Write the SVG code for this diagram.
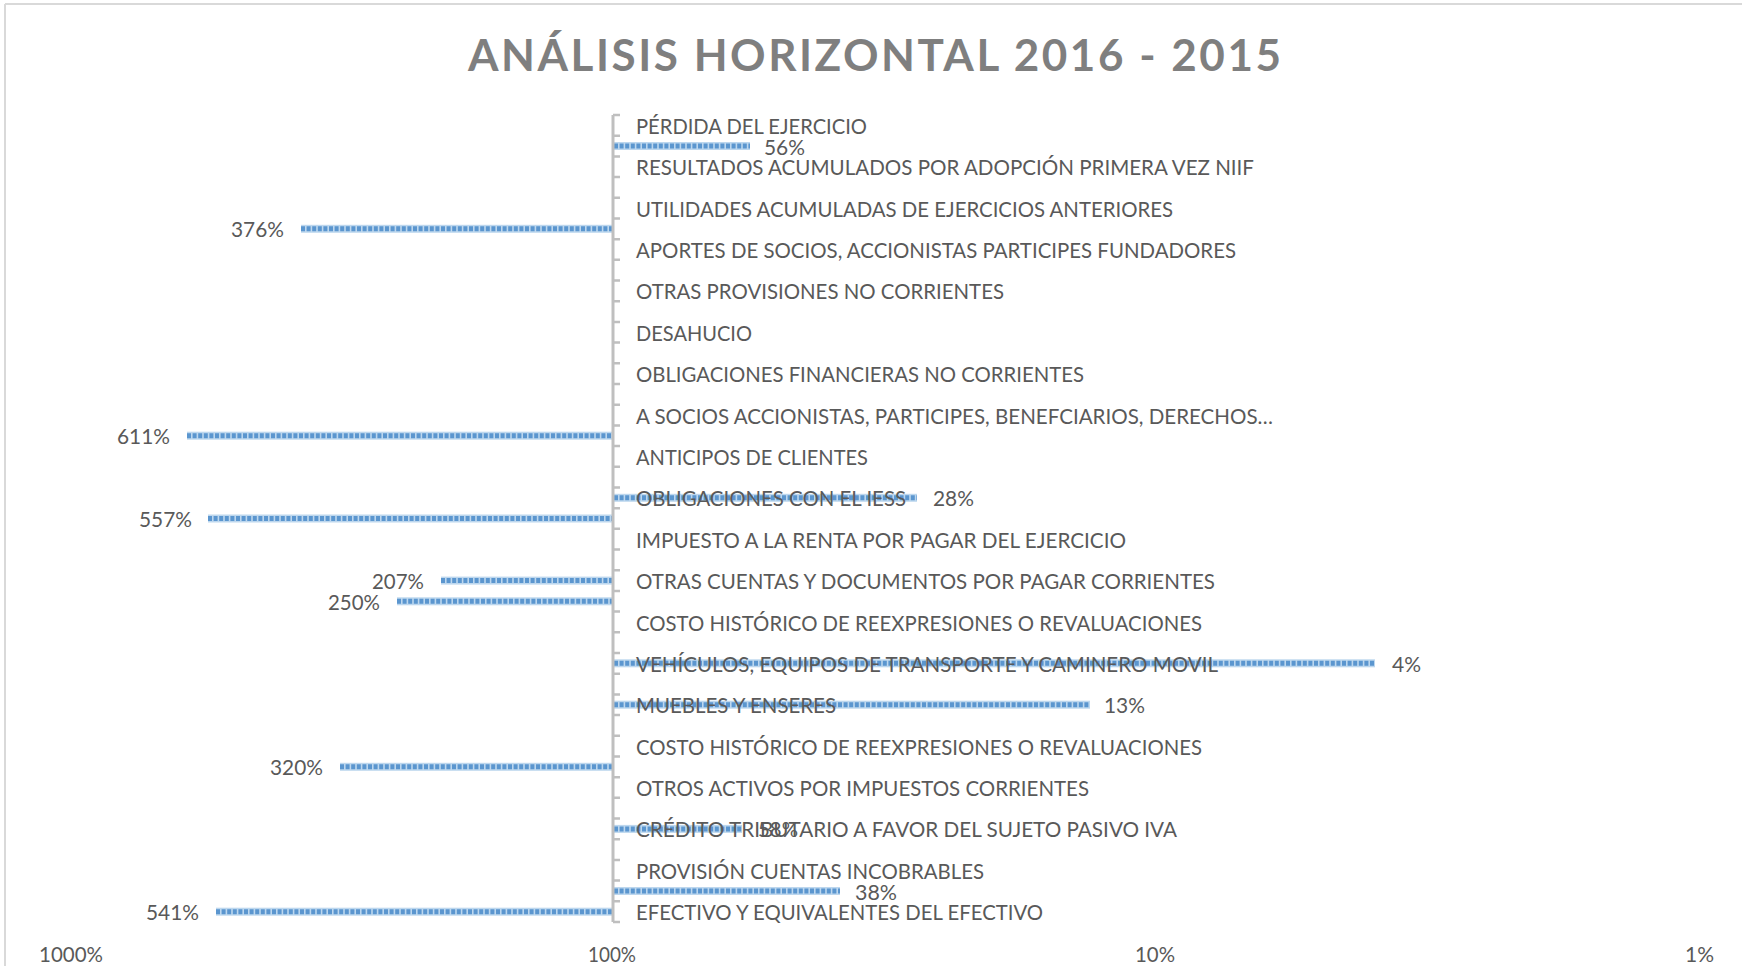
<svg xmlns="http://www.w3.org/2000/svg" width="1742" height="966" viewBox="0 0 1742 966">
<style>
.lbl{font-family:Lato,"Open Sans","Liberation Sans",sans-serif;font-size:22px;fill:#595959}
.ttl{font-family:Lato,"Open Sans","Liberation Sans",sans-serif;font-size:44px;font-weight:bold;fill:#7f7f7f}
.halo{fill:#bdd7ee}
.dash{stroke:#5b96cf;stroke-width:5;stroke-dasharray:4 1.6;fill:none}
.tick{stroke:#bfbfbf;stroke-width:2.5;fill:none}
</style>
<rect x="0" y="0" width="1742" height="966" fill="#ffffff"/>
<g id="border" stroke="#d9d9d9" stroke-width="2" fill="none">
<line x1="5" y1="4" x2="1742" y2="4"/>
<line x1="5" y1="4" x2="5" y2="966"/>
</g>
<g id="title"><text class="ttl" x="468" y="71" textLength="813" lengthAdjust="spacing">ANÁLISIS HORIZONTAL 2016 - 2015</text></g>
<g id="bars">
<g id="bar-c1"><rect class="halo" x="614" y="142" width="136" height="8"/><line class="dash" x1="614" y1="146" x2="750" y2="146"/></g>
<g id="bar-c5"><rect class="halo" x="301" y="224.8" width="311" height="8"/><line class="dash" x1="301" y1="228.8" x2="612" y2="228.8"/></g>
<g id="bar-c15"><rect class="halo" x="187" y="431.7" width="425" height="8"/><line class="dash" x1="187" y1="435.7" x2="612" y2="435.7"/></g>
<g id="bar-c18"><rect class="halo" x="614" y="493.8" width="303" height="8"/><line class="dash" x1="614" y1="497.8" x2="917" y2="497.8"/></g>
<g id="bar-c19"><rect class="halo" x="208" y="514.5" width="404" height="8"/><line class="dash" x1="208" y1="518.5" x2="612" y2="518.5"/></g>
<g id="bar-c22"><rect class="halo" x="441" y="576.6" width="171" height="8"/><line class="dash" x1="441" y1="580.6" x2="612" y2="580.6"/></g>
<g id="bar-c23"><rect class="halo" x="397" y="597.3" width="215" height="8"/><line class="dash" x1="397" y1="601.3" x2="612" y2="601.3"/></g>
<g id="bar-c26"><rect class="halo" x="614" y="659.3" width="761" height="8"/><line class="dash" x1="614" y1="663.3" x2="1375" y2="663.3"/></g>
<g id="bar-c28"><rect class="halo" x="614" y="700.7" width="476" height="8"/><line class="dash" x1="614" y1="704.7" x2="1090" y2="704.7"/></g>
<g id="bar-c31"><rect class="halo" x="340" y="762.8" width="272" height="8"/><line class="dash" x1="340" y1="766.8" x2="612" y2="766.8"/></g>
<g id="bar-c34"><rect class="halo" x="614" y="824.9" width="128" height="8"/><line class="dash" x1="614" y1="828.9" x2="742" y2="828.9"/></g>
<g id="bar-c37"><rect class="halo" x="614" y="887" width="226" height="8"/><line class="dash" x1="614" y1="891" x2="840" y2="891"/></g>
<g id="bar-c38"><rect class="halo" x="216" y="907.7" width="396" height="8"/><line class="dash" x1="216" y1="911.7" x2="612" y2="911.7"/></g>
</g>
<g id="axis">
<line x1="613" y1="115" x2="613" y2="922" stroke="#bfbfbf" stroke-width="3"/>
<path class="tick" d="M613 115h7M613 135.7h7M613 156.4h7M613 177.1h7M613 197.8h7M613 218.5h7M613 239.2h7M613 259.8h7M613 280.5h7M613 301.2h7M613 321.9h7M613 342.6h7M613 363.3h7M613 384h7M613 404.7h7M613 425.4h7M613 446.1h7M613 466.8h7M613 487.5h7M613 508.2h7M613 528.8h7M613 549.5h7M613 570.2h7M613 590.9h7M613 611.6h7M613 632.3h7M613 653h7M613 673.7h7M613 694.4h7M613 715.1h7M613 735.8h7M613 756.5h7M613 777.2h7M613 797.8h7M613 818.5h7M613 839.2h7M613 859.9h7M613 880.6h7M613 901.3h7M613 922h7"/>
</g>
<g id="category-labels">
<text class="lbl" x="636" y="133.9" textLength="231" lengthAdjust="spacingAndGlyphs">PÉRDIDA DEL EJERCICIO</text>
<text class="lbl" x="636" y="175.2" textLength="618" lengthAdjust="spacingAndGlyphs">RESULTADOS ACUMULADOS POR ADOPCIÓN PRIMERA VEZ NIIF</text>
<text class="lbl" x="636" y="216.6" textLength="537" lengthAdjust="spacingAndGlyphs">UTILIDADES ACUMULADAS DE EJERCICIOS ANTERIORES</text>
<text class="lbl" x="636" y="258" textLength="600" lengthAdjust="spacingAndGlyphs">APORTES DE SOCIOS, ACCIONISTAS PARTICIPES FUNDADORES</text>
<text class="lbl" x="636" y="299.4" textLength="368" lengthAdjust="spacingAndGlyphs">OTRAS PROVISIONES NO CORRIENTES</text>
<text class="lbl" x="636" y="340.8" textLength="116" lengthAdjust="spacingAndGlyphs">DESAHUCIO</text>
<text class="lbl" x="636" y="382.2" textLength="448" lengthAdjust="spacingAndGlyphs">OBLIGACIONES FINANCIERAS NO CORRIENTES</text>
<text class="lbl" x="636" y="423.5" textLength="637" lengthAdjust="spacingAndGlyphs">A SOCIOS ACCIONISTAS, PARTICIPES, BENEFCIARIOS, DERECHOS…</text>
<text class="lbl" x="636" y="464.9" textLength="232" lengthAdjust="spacingAndGlyphs">ANTICIPOS DE CLIENTES</text>
<text class="lbl" x="636" y="506.3" textLength="270" lengthAdjust="spacingAndGlyphs">OBLIGACIONES CON EL IESS</text>
<text class="lbl" x="636" y="547.7" textLength="490" lengthAdjust="spacingAndGlyphs">IMPUESTO A LA RENTA POR PAGAR DEL EJERCICIO</text>
<text class="lbl" x="636" y="589.1" textLength="579" lengthAdjust="spacingAndGlyphs">OTRAS CUENTAS Y DOCUMENTOS POR PAGAR CORRIENTES</text>
<text class="lbl" x="636" y="630.5" textLength="566" lengthAdjust="spacingAndGlyphs">COSTO HISTÓRICO DE REEXPRESIONES O REVALUACIONES</text>
<text class="lbl" x="636" y="671.8" textLength="582" lengthAdjust="spacingAndGlyphs">VEHÍCULOS, EQUIPOS DE TRANSPORTE Y CAMINERO MOVIL</text>
<text class="lbl" x="636" y="713.2" textLength="200" lengthAdjust="spacingAndGlyphs">MUEBLES Y ENSERES</text>
<text class="lbl" x="636" y="754.6" textLength="566" lengthAdjust="spacingAndGlyphs">COSTO HISTÓRICO DE REEXPRESIONES O REVALUACIONES</text>
<text class="lbl" x="636" y="796" textLength="453" lengthAdjust="spacingAndGlyphs">OTROS ACTIVOS POR IMPUESTOS CORRIENTES</text>
<text class="lbl" x="636" y="837.4" textLength="541" lengthAdjust="spacingAndGlyphs">CRÉDITO TRIBUTARIO A FAVOR DEL SUJETO PASIVO IVA</text>
<text class="lbl" x="636" y="878.8" textLength="348" lengthAdjust="spacingAndGlyphs">PROVISIÓN CUENTAS INCOBRABLES</text>
<text class="lbl" x="636" y="920.2" textLength="407" lengthAdjust="spacingAndGlyphs">EFECTIVO Y EQUIVALENTES DEL EFECTIVO</text>
</g>
<g id="value-labels">
<text class="lbl" x="764" y="154.5" textLength="41" lengthAdjust="spacingAndGlyphs">56%</text>
<text class="lbl" x="231" y="237.3" textLength="53" lengthAdjust="spacingAndGlyphs">376%</text>
<text class="lbl" x="117" y="444.2" textLength="53" lengthAdjust="spacingAndGlyphs">611%</text>
<text class="lbl" x="933" y="506.3" textLength="41" lengthAdjust="spacingAndGlyphs">28%</text>
<text class="lbl" x="139" y="527" textLength="53" lengthAdjust="spacingAndGlyphs">557%</text>
<text class="lbl" x="372" y="589.1" textLength="52" lengthAdjust="spacingAndGlyphs">207%</text>
<text class="lbl" x="328" y="609.8" textLength="52" lengthAdjust="spacingAndGlyphs">250%</text>
<text class="lbl" x="1392" y="671.8" textLength="29" lengthAdjust="spacingAndGlyphs">4%</text>
<text class="lbl" x="1104" y="713.2" textLength="41" lengthAdjust="spacingAndGlyphs">13%</text>
<text class="lbl" x="270" y="775.3" textLength="53" lengthAdjust="spacingAndGlyphs">320%</text>
<text class="lbl" x="758" y="837.4" textLength="40" lengthAdjust="spacingAndGlyphs">58%</text>
<text class="lbl" x="855" y="899.5" textLength="42" lengthAdjust="spacingAndGlyphs">38%</text>
<text class="lbl" x="146" y="920.2" textLength="53" lengthAdjust="spacingAndGlyphs">541%</text>
</g>
<g id="x-axis-labels">
<text class="lbl" x="39" y="962" textLength="64" lengthAdjust="spacingAndGlyphs">1000%</text>
<text class="lbl" x="588" y="962" textLength="48" lengthAdjust="spacingAndGlyphs">100%</text>
<text class="lbl" x="1135" y="962" textLength="40" lengthAdjust="spacingAndGlyphs">10%</text>
<text class="lbl" x="1685" y="962" textLength="29" lengthAdjust="spacingAndGlyphs">1%</text>
</g>
</svg>
